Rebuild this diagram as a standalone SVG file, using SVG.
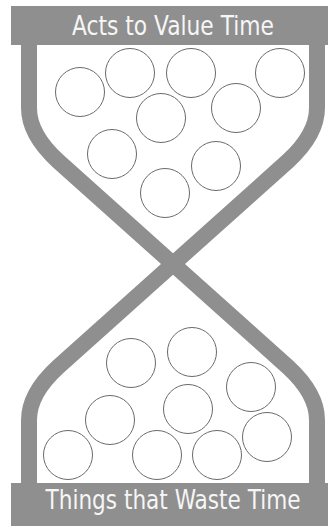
<svg xmlns="http://www.w3.org/2000/svg" width="328" height="526" viewBox="0 0 328 526">
  <style>
    .wall { fill: none; stroke: #8f8f8f; stroke-width: 16; stroke-linejoin: round; }
    .bar { fill: #8f8f8f; }
    .label { fill: #f6f6f6; font-family: "DejaVu Sans Condensed", "DejaVu Sans", sans-serif; font-size: 27px; text-anchor: middle; }
    .ball { fill: #ffffff; stroke: #6a6a6a; stroke-width: 1; }
  </style>
  <rect width="328" height="526" fill="#ffffff"/>
  <g id="connectors">
    <path class="wall" d="M29,40 L29,108 Q29,134.4 58,161 L288,367 Q317,393.6 317,420 L317,488"/>
    <path class="wall" d="M317,40 L317,108 Q317,134.4 288,161 L58,367 Q29,393.6 29,420 L29,488"/>
  </g>
  <g id="top-bar">
    <rect class="bar" x="11" y="6" width="317" height="39"/>
    <text class="label" x="173" y="35" textLength="202" lengthAdjust="spacingAndGlyphs">Acts to Value Time</text>
  </g>
  <g id="bottom-bar">
    <rect class="bar" x="11" y="483" width="317" height="43"/>
    <text class="label" x="173" y="509" textLength="255" lengthAdjust="spacingAndGlyphs">Things that Waste Time</text>
  </g>
  <g id="top-balls">
    <circle class="ball" cx="80" cy="92" r="24.5"/>
    <circle class="ball" cx="130" cy="73" r="24.5"/>
    <circle class="ball" cx="191" cy="73" r="24.5"/>
    <circle class="ball" cx="280" cy="73" r="24.5"/>
    <circle class="ball" cx="161" cy="118" r="24.5"/>
    <circle class="ball" cx="236" cy="108" r="24.5"/>
    <circle class="ball" cx="112" cy="154" r="24.5"/>
    <circle class="ball" cx="216" cy="166" r="24.5"/>
    <circle class="ball" cx="165" cy="193" r="24.5"/>
  </g>
  <g id="bottom-balls">
    <circle class="ball" cx="131" cy="363" r="24.5"/>
    <circle class="ball" cx="192" cy="352" r="24.5"/>
    <circle class="ball" cx="251" cy="387" r="24.5"/>
    <circle class="ball" cx="110" cy="420" r="24.5"/>
    <circle class="ball" cx="188" cy="409" r="24.5"/>
    <circle class="ball" cx="68" cy="455" r="24.5"/>
    <circle class="ball" cx="157" cy="455" r="24.5"/>
    <circle class="ball" cx="217" cy="455" r="24.5"/>
    <circle class="ball" cx="267" cy="437" r="24.5"/>
  </g>
</svg>
